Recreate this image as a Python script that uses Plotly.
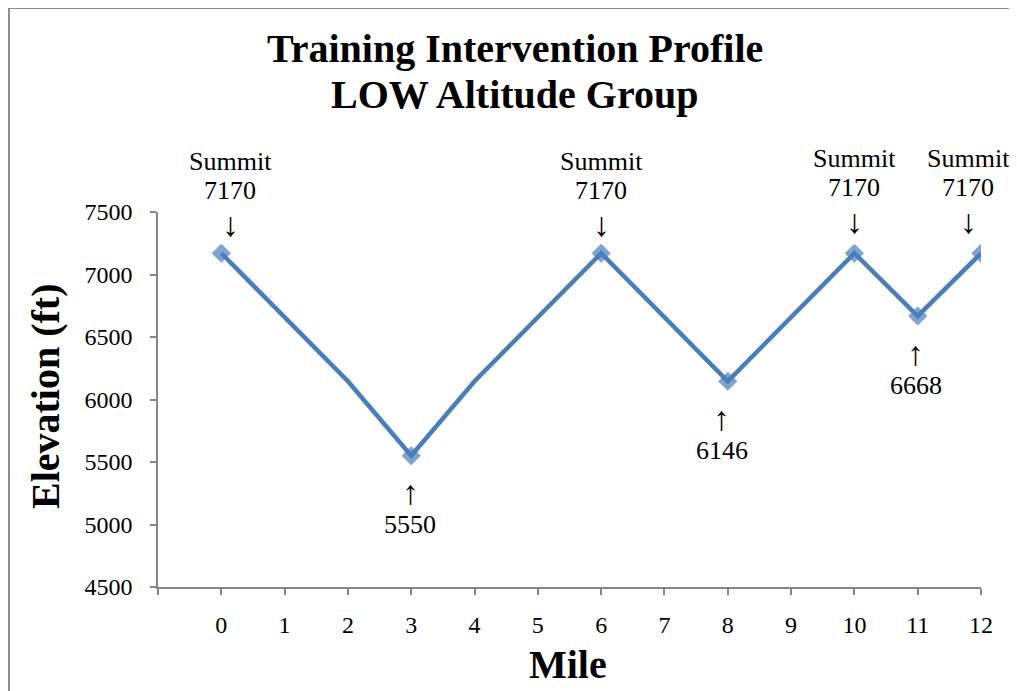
import plotly.graph_objects as go

# Data
miles = [0, 2, 3, 4, 6, 8, 10, 11, 12]
elevation = [7170, 6146, 5550, 6146, 7170, 6146, 7170, 6668, 7170]
show_marker = [True, False, True, False, True, True, True, True, True]

x_ticks = list(range(-1, 13))
x_tick_labels = [""] + [str(i) for i in range(0, 13)]
y_ticks = [4500, 5000, 5500, 6000, 6500, 7000, 7500]

summit_miles = [0, 6, 10, 12]
summit_values = [7170, 7170, 7170, 7170]
low_miles = [3, 8, 11]
low_values = [5550, 6146, 6668]

# layout tweaks for label placement (pixels)
summit_xshift = [9, 0, 0, -13]
summit_yshift = [0, 0, 3, 3]
low_xshift = [-1, -6, -2]

FONT = "Liberation Serif, Times New Roman, serif"
ARROW_FONT = "Liberation Serif, DejaVu Serif, serif"
BLUE = "#4A7EBB"
AXIS = "#868686"

# figure-pixel geometry
L, R, T, B = 150, 44, 204, 112
W, H = 1017, 691
PW, PH = W - L - R, H - T - B


def px(x):
    return (x - L) / PW


def py(y):
    return (H - B - y) / PH


fig = go.Figure()
fig.add_trace(go.Scatter(
    x=miles, y=elevation, mode="lines+markers",
    line=dict(color=BLUE, width=4.5),
    marker=dict(symbol="diamond", color=BLUE, line=dict(color=BLUE, width=1),
                size=[14 if s else 0 for s in show_marker]),
    showlegend=False, hoverinfo="skip",
))

annotations = []
txt = dict(family=FONT, size=26, color="black")
arr = dict(family=ARROW_FONT, size=34, color="black")
for m, v, dx, dy in zip(summit_miles, summit_values, summit_xshift, summit_yshift):
    for text, off, f in (("Summit", 92, txt), (str(v), 63, txt), ("↓", 29, arr)):
        annotations.append(dict(
            x=m, y=v, xref="x", yref="y", xshift=dx, yshift=off + dy,
            text=text, showarrow=False, yanchor="middle", xanchor="center", font=f,
        ))
for m, v, dx in zip(low_miles, low_values, low_xshift):
    for text, off, f in (("↑", -37, arr), (str(v), -69, txt)):
        annotations.append(dict(
            x=m, y=v, xref="x", yref="y", xshift=dx, yshift=off,
            text=text, showarrow=False, yanchor="middle", xanchor="center", font=f,
        ))

title_font = dict(family=FONT, size=40, color="black")
annotations.append(dict(
    x=px(507), y=py(40), xref="paper", yref="paper",
    text="<b>Training Intervention Profile</b>",
    showarrow=False, xanchor="center", yanchor="middle", font=title_font,
))
annotations.append(dict(
    x=px(507), y=py(87), xref="paper", yref="paper",
    text="<b>LOW Altitude Group</b>",
    showarrow=False, xanchor="center", yanchor="middle", font=title_font,
))
annotations.append(dict(
    x=px(37), y=py(388), xref="paper", yref="paper",
    text="<b>Elevation (ft)</b>", textangle=-90,
    showarrow=False, xanchor="center", yanchor="middle", font=title_font,
))
annotations.append(dict(
    x=px(560), y=py(656), xref="paper", yref="paper",
    text="<b>Mile</b>",
    showarrow=False, xanchor="center", yanchor="middle", font=title_font,
))

fig.update_layout(
    width=W, height=H,
    margin=dict(l=L, r=R, t=T, b=B),
    paper_bgcolor="white", plot_bgcolor="white",
    annotations=annotations,
    shapes=[dict(
        type="rect", xref="paper", yref="paper",
        x0=px(1), x1=px(W + 20), y0=py(H + 20), y1=py(0),
        line=dict(color="#8C8C8C", width=2), fillcolor="rgba(0,0,0,0)",
        layer="below",
    )],
    xaxis=dict(
        range=[-1, 12], tickvals=x_ticks, ticktext=x_tick_labels,
        showgrid=False, zeroline=False, showline=True, linecolor=AXIS, linewidth=1.5,
        ticks="outside", ticklen=6, tickcolor=AXIS, tickwidth=1.5,
        ticklabelstandoff=9,
        tickfont=dict(family=FONT, size=24, color="black"),
    ),
    yaxis=dict(
        range=[4500, 7500], tickvals=y_ticks,
        showgrid=False, zeroline=False, showline=True, linecolor=AXIS, linewidth=1.5,
        ticks="outside", ticklen=6, tickcolor=AXIS, tickwidth=1.5,
        ticklabelstandoff=13,
        tickfont=dict(family=FONT, size=24, color="black"),
    ),
)

fig.write_html("out.html")
